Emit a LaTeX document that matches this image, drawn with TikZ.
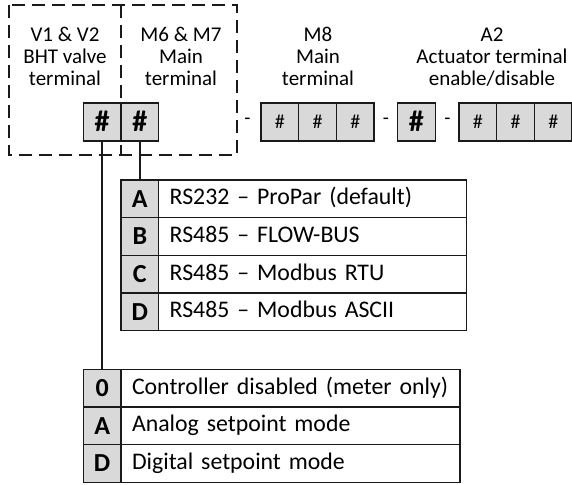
\documentclass[tikz,border=0pt]{standalone}
\usepackage{fontspec}
\setmainfont{Carlito}
\definecolor{cellgray}{HTML}{D9D9D9}
\definecolor{edge}{HTML}{1A1A1A}
\begin{document}
\begin{tikzpicture}[x=1pt,y=-1pt,
  hcell/.style={draw=edge, line width=1.3pt, fill=cellgray, minimum width=37.7pt,
    minimum height=38pt, inner sep=0pt, outer sep=0pt, anchor=north west,
    font=\fontsize{20}{20}\selectfont, text height=12.6pt, text depth=0pt},
  hbold/.style={hcell, font=\fontsize{30}{30}\selectfont\bfseries, text height=18.9pt},
  keybox/.style={draw=edge, line width=1.3pt, fill=cellgray, minimum width=37.7pt,
    minimum height=37.7pt, inner sep=0pt, outer sep=0pt, anchor=north west,
    font=\fontsize{26}{26}\selectfont\bfseries, text height=16.4pt, text depth=0pt},
  descbox/.style={draw=edge, line width=1.3pt, fill=white, minimum height=37.7pt,
    inner xsep=11pt, inner ysep=0pt, outer sep=0pt, anchor=north west, align=left,
    font=\fontsize{23.8}{24}\selectfont, text height=15pt, text depth=3pt},
  upper/.style={descbox, text width=286pt},
  lower/.style={descbox, text width=317pt},
  head/.style={align=center, font=\fontsize{21}{22}\selectfont, anchor=base, inner sep=0pt},
  grpline/.style={draw=edge, line width=1.4pt, dash pattern=on 13pt off 7pt},
  sep/.style={font=\fontsize{20}{20}\selectfont, inner sep=0pt},
  link/.style={draw=edge, line width=1.4pt}
]
\useasboundingbox (0,0) rectangle (572,484);

% dashed group around the first two positions
\draw[grpline] (9,5) rectangle (237,155);
\coordinate (dtop) at (121,5);
\coordinate (dbot) at (121,155);
\draw[grpline] (dtop) -- (dbot);

% headings (anchored at the baseline of their last line)
\node[head] (hv) at (65,86) {V1 \& V2\\BHT valve\\terminal};
\node[head] (hm) at (181,86) {M6 \& M7\\Main\\terminal};
\node[head] (hm8) at (318,86) {M8\\Main\\terminal};
\node[head] (ha) at (492,86) {A2\\Actuator terminal\\enable/disable};

% code positions
\node[hbold] (c1) at (83.3,103) {\#};
\node[hbold] (c2) at (121,103) {\#};
\node[sep] (s1) at (247.5,121) {-};
\node[hcell] (m1) at (261,103) {\#};
\node[hcell] (m2) at (298.7,103) {\#};
\node[hcell] (m3) at (336.4,103) {\#};
\node[sep] (s2) at (386,121) {-};
\node[hbold] (b1) at (397.5,103) {\#};
\node[sep] (s3) at (447.5,121) {-};
\node[hcell] (a1) at (459,103) {\#};
\node[hcell] (a2) at (496.7,103) {\#};
\node[hcell] (a3) at (534.4,103) {\#};

% communication options
\node[keybox] (kA) at (121,180) {A};
\node[upper] (tA) at (158.7,180) {RS232 -- ProPar (default)};
\node[keybox] (kB) at (121,217.7) {B};
\node[upper] (tB) at (158.7,217.7) {RS485 -- FLOW-BUS};
\node[keybox] (kC) at (121,255.4) {C};
\node[upper] (tC) at (158.7,255.4) {RS485 -- Modbus RTU};
\node[keybox] (kD) at (121,293.1) {D};
\node[upper] (tD) at (158.7,293.1) {RS485 -- Modbus ASCII};

% controller options
\node[keybox] (k0) at (83.3,369.3) {0};
\node[lower] (t0) at (121,369.3) {Controller disabled (meter only)};
\node[keybox] (kAn) at (83.3,407) {A};
\node[lower] (tAn) at (121,407) {Analog setpoint mode};
\node[keybox] (kDg) at (83.3,444.7) {D};
\node[lower] (tDg) at (121,444.7) {Digital setpoint mode};

% connectors
\draw[link] (c2.south) -- (kA.north);
\draw[link] (c1.south) -- (k0.north);
\end{tikzpicture}
\end{document}
